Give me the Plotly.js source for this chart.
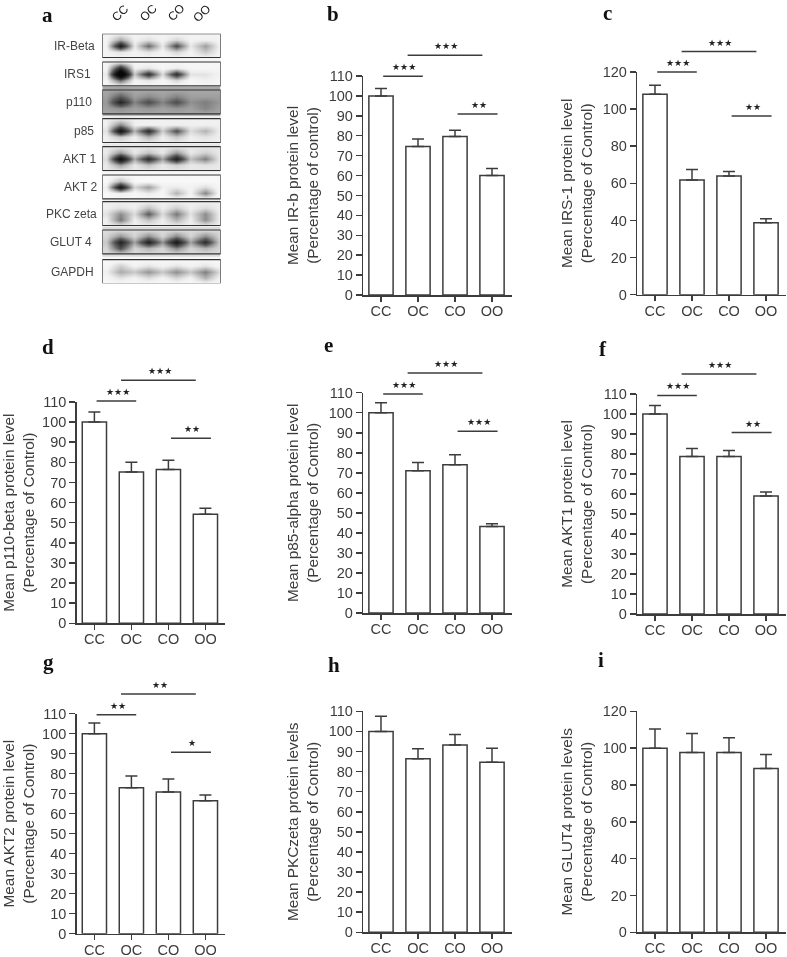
<!DOCTYPE html>
<html><head><meta charset="utf-8">
<script src="https://cdn.plot.ly/plotly-3.0.1.min.js"></script>
<style>html,body{margin:0;padding:0;background:#fff}#g{width:787px;height:957px;filter:blur(0.45px)}</style>
</head><body><div id="g"></div>
<script>
// ---------- data ----------
const categories = ['CC','OC','CO','OO'];
const means_b = [100,74.6,79.6,60];      const errors_b = [3.7,3.8,3.2,3.5];
const means_c = [108,61.8,64,38.8];      const errors_c = [4.8,5.7,2.4,2.1];
const means_d = [100,75.2,76.5,54.2];    const errors_d = [5,4.8,4.5,3];
const means_e = [100,71,74,43.2];        const errors_e = [5,4.2,5,1.4];
const means_f = [100,78.8,78.8,59];      const errors_f = [4.3,3.9,3,2];
const means_g = [100,73,70.8,66.5];      const errors_g = [5.3,5.8,6.5,2.8];
const means_h = [100,86.4,93.2,84.6];    const errors_h = [7.5,5,5.3,7];
const means_i = [100,97.6,97.6,89];      const errors_i = [10.4,10.4,8.1,7.6];

const ylabels = {
  b:'Mean IR-b protein level<br>(Percentage of control)',
  c:'Mean IRS-1 protein level<br>(Percentage of Control)',
  d:'Mean p110-beta protein level<br>(Percentage of Control)',
  e:'Mean p85-alpha protein level<br>(Percentage of Control)',
  f:'Mean AKT1 protein level<br>(Percentage of Control)',
  g:'Mean AKT2 protein level<br>(Percentage of Control)',
  h:'Mean PKCzeta protein levels<br>(Percentage of Control)',
  i:'Mean GLUT4 protein levels<br>(Percentage of Control)'
};

// significance bars: which span, height in axis units, stars
const bracketSpans = [[0.06,1.13],[0.72,2.74],[2.07,3.15]];
const bracketLevels_b = [109.9,120.4,90.9];  const stars_b = ['★★★','★★★','★★'];
const bracketLevels_c = [120,131,96.3];      const stars_c = ['★★★','★★★','★★'];
const bracketLevels_d = [110.5,120.8,92];    const stars_d = ['★★★','★★★','★★'];
const bracketLevels_e = [109.3,119.8,90.7];  const stars_e = ['★★★','★★★','★★★'];
const bracketLevels_f = [109.3,120,90.7];    const stars_f = ['★★★','★★★','★★'];
const bracketLevels_g = [109.5,119.8,90.7];  const stars_g = ['★★','★★','★'];

// blot strips: band darkness, 5 rows x 9 columns (background / lane / background ...)
const blotNames = ['IR-Beta','IRS1','p110','p85','AKT 1','AKT 2','PKC zeta','GLUT 4','GAPDH'];
const blot_IRBeta = [[8,10,8,8,8,8,8,8,8],[8,32,9,15,8,18,8,10,8],[9,85,12,48,12,58,12,34,9],[8,14,8,14,8,18,8,22,8],[8,8,8,8,8,8,8,8,8]];
const blot_IRS1 = [[6,12,6,6,6,6,6,6,6],[8,75,10,14,6,12,6,6,6],[12,135,22,70,16,72,14,14,8],[8,48,8,14,6,18,6,10,6],[6,6,6,6,6,6,6,6,6]];
const blot_p110 = [[31,33,31,31,31,31,31,31,31],[33,50,33,38,33,40,33,33,33],[35,76,40,56,40,56,37,42,35],[33,38,33,36,33,36,33,40,33],[31,31,31,31,31,31,31,31,31]];
const blot_p85 = [[10,12,10,10,10,10,10,10,10],[10,40,10,10,10,10,10,10,10],[14,92,28,72,20,56,16,28,10],[10,22,10,28,10,22,10,14,10],[10,10,10,10,10,10,10,10,10]];
const blot_AKT1 = [[12,12,12,12,12,12,12,12,12],[12,36,12,24,12,36,12,20,12],[16,98,30,72,32,82,24,42,12],[12,34,12,24,12,20,12,14,12],[12,12,12,12,12,12,12,12,12]];
const blot_AKT2 = [[5,6,5,5,5,5,5,5,5],[5,26,5,5,5,5,5,5,5],[10,88,18,34,10,12,8,16,6],[5,10,5,12,5,28,8,40,5],[5,5,5,5,5,5,5,5,5]];
const blot_PKC = [[10,10,10,10,10,10,10,10,10],[10,14,10,24,10,20,10,16,10],[14,38,16,52,16,44,14,38,10],[10,44,10,24,10,28,10,38,10],[10,10,10,10,10,10,10,10,10]];
const blot_GLUT = [[16,16,16,16,16,16,16,16,16],[18,36,18,38,18,40,18,38,18],[22,78,32,78,36,86,32,72,20],[18,56,18,28,18,40,18,28,18],[16,16,16,16,16,16,16,16,16]];
const blot_GAPDH = [[5,5,5,5,5,5,5,5,5],[6,20,8,14,8,14,8,14,6],[10,30,22,36,22,38,22,42,16],[6,14,8,16,8,18,8,28,8],[5,5,5,5,5,5,5,5,5]];

// ---------- layout tables ----------
const W = 787, H = 957;
const ink = '#3c3c3c', sans = '"Liberation Sans", Arial, sans-serif', serif = '"Liberation Serif", serif';
const px = x => x / W, py = y => 1 - y / H;

const panels = [
  {k:'b',means:means_b,errs:errors_b,left:363.3,top:76,bottom:295,max:110,step:10,levels:bracketLevels_b,stars:stars_b},
  {k:'c',means:means_c,errs:errors_c,left:637.3,top:72,bottom:294.7,max:120,step:20,levels:bracketLevels_c,stars:stars_c},
  {k:'d',means:means_d,errs:errors_d,left:76.7,top:402,bottom:623.3,max:110,step:10,levels:bracketLevels_d,stars:stars_d},
  {k:'e',means:means_e,errs:errors_e,left:363.3,top:392.7,bottom:613,max:110,step:10,levels:bracketLevels_e,stars:stars_e},
  {k:'f',means:means_f,errs:errors_f,left:637.3,top:394,bottom:614,max:110,step:10,levels:bracketLevels_f,stars:stars_f},
  {k:'g',means:means_g,errs:errors_g,left:76.7,top:713.7,bottom:933.7,max:110,step:10,levels:bracketLevels_g,stars:stars_g},
  {k:'h',means:means_h,errs:errors_h,left:363.3,top:711.3,bottom:932.3,max:110,step:10},
  {k:'i',means:means_i,errs:errors_i,left:637.3,top:711.3,bottom:932.3,max:120,step:20}
];
const axisWidth = 148.4, laneLeft = -0.478, laneRight = 3.532, headroom = 1.3;
const positions = categories.map((_, i) => i);

const traces = [], annotations = [], shapes = [];
const layout = {width:W,height:H,margin:{l:0,r:0,t:0,b:0},paper_bgcolor:'#fff',plot_bgcolor:'rgba(0,0,0,0)',
  showlegend:false,font:{family:sans,color:ink},annotations,shapes};

panels.forEach((p, idx) => {
  const n = idx === 0 ? '' : String(idx + 1);
  const xa = 'x' + n, ya = 'y' + n;
  traces.push({type:'bar',x:positions,y:p.means,xaxis:xa,yaxis:ya,width:0.655,
    marker:{color:'#fff',line:{color:ink,width:1.5}},
    error_y:{type:'data',symmetric:false,array:p.errs,arrayminus:positions.map(()=>0),color:ink,thickness:1.5,width:6},
    hoverinfo:'y'});
  layout['xaxis'+n] = {domain:[px(p.left),px(p.left+axisWidth)],range:[laneLeft,laneRight],anchor:ya,
    tickmode:'array',tickvals:positions,ticktext:categories,ticks:'outside',ticklen:5,tickwidth:1.5,tickcolor:ink,
    ticklabelstandoff:-3,showline:true,linecolor:ink,linewidth:1.5,showgrid:false,zeroline:false,fixedrange:true,
    tickfont:{family:sans,size:14.5,color:ink}};
  layout['yaxis'+n] = {domain:[py(p.bottom),py(p.top)],range:[0,p.max],anchor:xa,tick0:0,dtick:p.step,
    ticks:'outside',ticklen:6,tickwidth:1.5,tickcolor:ink,showline:true,linecolor:ink,linewidth:1.5,
    showgrid:false,zeroline:false,fixedrange:true,tickfont:{family:sans,size:14.5,color:ink},
    title:{text:ylabels[p.k],font:{family:sans,size:15.4,color:ink},standoff:6}};
  if (p.levels) {
    // taller hidden axis on the same scale, so marks above the visible axis stay on scale
    const m = idx + 10, ya2 = 'y' + m, span = p.bottom - p.top;
    layout['yaxis'+m] = {domain:[py(p.bottom),py(p.bottom - span*headroom)],range:[0,p.max*headroom],
      anchor:xa,visible:false,fixedrange:true};
    const xs = [], ys = [];
    bracketSpans.forEach((s, j) => {
      xs.push(s[0], s[1], null); ys.push(p.levels[j], p.levels[j], null);
      annotations.push({xref:xa,yref:ya2,x:(s[0]+s[1])/2+0.03,y:p.levels[j],text:p.stars[j],showarrow:false,
        yshift:9,xanchor:'center',yanchor:'middle',font:{family:'"DejaVu Sans"',size:9,color:'#222'}});
    });
    traces.push({type:'scatter',mode:'lines',x:xs,y:ys,xaxis:xa,yaxis:ya2,cliponaxis:false,
      line:{color:ink,width:1.5},hoverinfo:'skip'});
  }
});

// panel a: one axis pair whose units are page pixels
const blotLeft = 102.3, blotRight = 220.7, blotTop = 33.7, blotBottom = 283.3;
const stripTops = [33.7,62,90,118.7,146.7,175,201.7,230,259.7];
const stripHeight = 23.8;
const laneCentres = [106,120,134,148,162,176,190,205,219];
const labelRight = [97,93,94.3,96.3,98,99.3,99.3,94.3,96.3];
const blots = [blot_IRBeta,blot_IRS1,blot_p110,blot_p85,blot_AKT1,blot_AKT2,blot_PKC,blot_GLUT,blot_GAPDH];
layout.xaxis9 = {domain:[px(blotLeft),px(blotRight)],range:[blotLeft,blotRight],anchor:'y9',visible:false,fixedrange:true};
layout.yaxis9 = {domain:[py(blotBottom),py(blotTop)],range:[blotBottom,blotTop],anchor:'x9',visible:false,fixedrange:true};
blots.forEach((z, i) => {
  const t = stripTops[i], rowStep = stripHeight / 4;
  traces.push({type:'heatmap',z,x:laneCentres,y:z.map((_, r) => t + r * rowStep),xaxis:'x9',yaxis:'y9',
    zmin:0,zmax:100,zsmooth:'best',showscale:false,hoverinfo:'skip',
    colorscale:[[0,'#ffffff'],[0.1,'#f0f0f0'],[0.2,'#cfcfcf'],[0.35,'#999999'],[0.5,'#5e5e5e'],[0.7,'#2e2e2e'],[1,'#080808']]});
  shapes.push({type:'rect',xref:'x9',yref:'y9',x0:blotLeft,x1:blotRight,y0:t,y1:t+stripHeight,
    line:{color:'#333',width:1.2},fillcolor:'rgba(0,0,0,0)'});
  annotations.push({xref:'paper',yref:'paper',x:px(labelRight[i]),y:py(t+stripHeight/2),text:blotNames[i],showarrow:false,
    xanchor:'right',yanchor:'middle',font:{family:sans,size:12,color:'#444'}});
});
const laneLabelX = [120,148,175.5,202], laneLabelY = 12.5;
categories.forEach((c, i) => annotations.push({xref:'paper',yref:'paper',x:px(laneLabelX[i]),y:py(laneLabelY),text:c,showarrow:false,
  textangle:-45,xanchor:'center',yanchor:'middle',font:{family:sans,size:12,color:'#222'}}));

// panel letters
const letters = ['a','b','c','d','e','f','g','h','i'];
const letterX = [47.7,333,607.7,48,328,603,48,334,601];
const letterY = [15,14,13,347,345,349,662,665,660];
letters.forEach((l, i) => annotations.push({xref:'paper',yref:'paper',x:px(letterX[i]),y:py(letterY[i]),text:'<b>'+l+'</b>',
  showarrow:false,xanchor:'center',yanchor:'middle',font:{family:serif,size:21,color:'#111'}}));

Plotly.newPlot('g', traces, layout, {displayModeBar:false,staticPlot:true});
</script></body></html>
